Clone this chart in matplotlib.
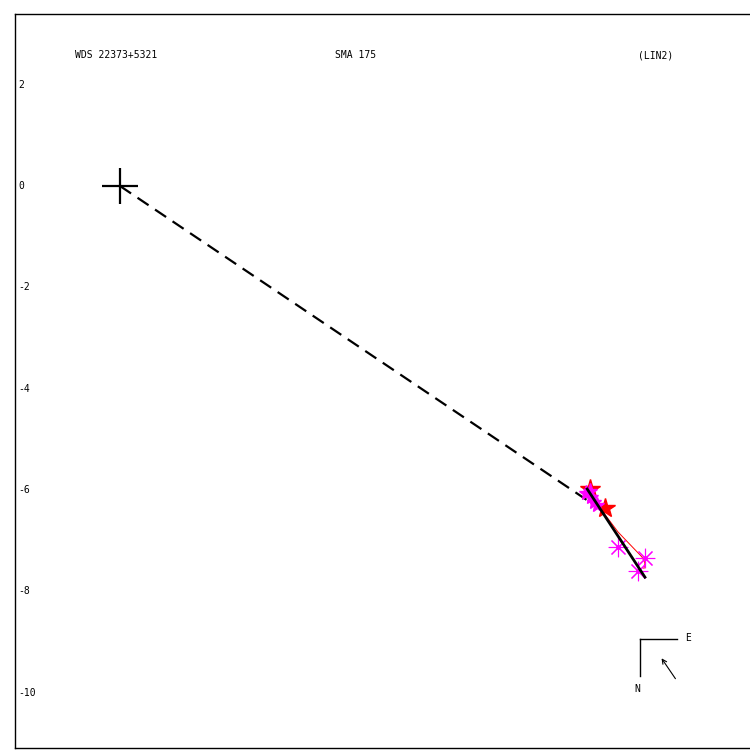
import matplotlib
matplotlib.use("Agg")
import matplotlib.pyplot as plt
from matplotlib.transforms import blended_transform_factory

# ---- data (arcsec offsets) ----
primary = (0.0, 0.0)
dash_end = (9.47, -6.37)
fit_x = [9.22, 10.36]
fit_y = [-5.98, -7.72]
red_star_x = [9.28, 9.57]
red_star_y = [-5.98, -6.35]
mag_star_x = [9.20, 9.30, 9.36, 9.27, 9.42]
mag_star_y = [-6.06, -6.14, -6.24, -6.02, -6.30]
mag_ast_x = [9.83, 10.36, 10.22]
mag_ast_y = [-7.12, -7.34, -7.60]
red_line_x = [9.53, 9.83, 10.30, 10.36, 10.34]
red_line_y = [-6.43, -6.83, -7.32, -7.44, -7.55]
ytick_vals = [2, 0, -2, -4, -6, -8, -10]
title_left = "WDS 22373+5321"
title_mid = "SMA 175"
title_right = "(LIN2)"

fig = plt.figure(figsize=(7.5, 7.5), dpi=100)
ax = fig.add_axes([15/750, 2/750, 735/750, 734/750])
scale = 50.67
ax.set_xlim(-105/scale, 630/scale)
ax.set_ylim(-562/scale, 172/scale)
ax.set_xticks([]); ax.set_yticks([])
ax.spines['right'].set_visible(False)
for s in ['left', 'top', 'bottom']:
    ax.spines[s].set_linewidth(1.0)

mono = 'DejaVu Sans Mono'
tr = blended_transform_factory(ax.transAxes, ax.transData)
for v in ytick_vals:
    ax.text(3/735, v, str(v), transform=tr, fontsize=7, family=mono, va='center', ha='left')

# dashed line
ax.plot([primary[0], dash_end[0]], [primary[1], dash_end[1]], color='black', lw=1.6, ls=(0, (6, 3.5)))
# primary cross
ax.plot(*primary, marker='+', ms=26, mew=1.6, color='black')
# red line
ax.plot(red_line_x, red_line_y, color='red', lw=0.7)
# stars
ax.plot(red_star_x, red_star_y, ls='none', marker='*', ms=15, color='red', mec='red')
ax.plot(mag_star_x, mag_star_y, ls='none', marker='*', ms=11, color='magenta', mec='magenta')
ax.plot(mag_ast_x, mag_ast_y, ls='none', marker=(8, 2, 0), ms=14, mew=0.8, color='magenta')
ax.plot(mag_ast_x, mag_ast_y, ls='none', marker='o', ms=2.5, color='magenta')
# fit line
ax.plot(fit_x, fit_y, color='black', lw=2.0)

# compass
cx, cy = (640-120)/scale, (186-639)/scale
L = 37/scale
ax.plot([cx, cx+L], [cy, cy], color='black', lw=1.0)
ax.plot([cx, cx], [cy, cy-L], color='black', lw=1.0)
ax.text(cx+48/scale, cy+1/scale, 'E', fontsize=7, family=mono, ha='center', va='center')
ax.text(cx-3/scale, cy-50/scale, 'N', fontsize=7, family=mono, ha='center', va='center')
ax.annotate('', xy=((660-120)/scale, (186-656)/scale), xytext=((677-120)/scale, (186-681)/scale),
            arrowprops=dict(arrowstyle='->', lw=0.8, color='black', mutation_scale=8))

# titles
fig.text(75/750, 1-55/750, title_left, fontsize=7, family=mono, va='center', ha='left')
fig.text(335/750, 1-55/750, title_mid, fontsize=7, family=mono, va='center', ha='left')
fig.text(638/750, 1-55/750, title_right, fontsize=7, family=mono, va='center', ha='left')

fig.savefig('out.png', dpi=100)
